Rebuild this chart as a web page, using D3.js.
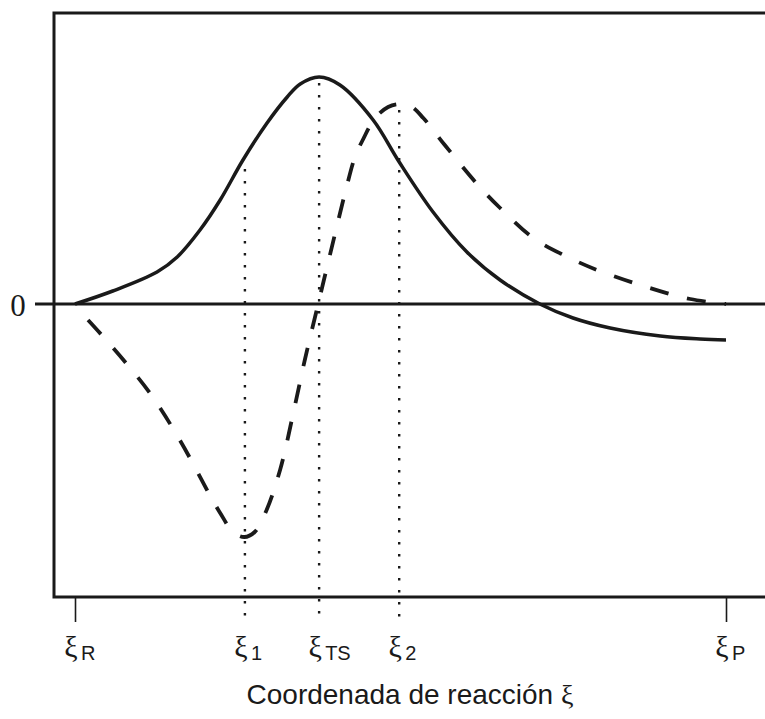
<!DOCTYPE html>
<html>
<head>
<meta charset="utf-8">
<script src="https://cdn.jsdelivr.net/npm/d3@7"></script>
<style>
  html, body { margin: 0; padding: 0; background: #fff; }
  svg { display: block; }
</style>
</head>
<body>
<svg id="chart" width="765" height="719"></svg>
<script>
// Reaction coordinate (0 = reactants, 1 = products)
const energyXi  = [0, 0.058, 0.126, 0.157, 0.192, 0.223, 0.258, 0.295, 0.326, 0.346, 0.375, 0.407, 0.458, 0.498, 0.550, 0.602, 0.653, 0.714, 0.765, 0.822, 0.899, 0.960, 1.0];
// Potential energy profile (solid line)
const energyVal = [0, 1.3, 3.2, 4.7, 7.4, 10.4, 14.4, 18.1, 20.7, 22.0, 22.7, 21.9, 18.4, 14.2, 9.2, 5.2, 2.4, 0, -1.4, -2.4, -3.2, -3.5, -3.6];

// Reaction force (dashed line)
const forceXi  = [0.020, 0.041, 0.077, 0.115, 0.161, 0.207, 0.223, 0.243, 0.260, 0.276, 0.293, 0.315, 0.338, 0.353, 0.375, 0.399, 0.416, 0.430, 0.442, 0.461, 0.481, 0.498, 0.515, 0.535, 0.568, 0.619, 0.653, 0.704, 0.760, 0.806, 0.883, 0.945, 1.0];
const forceVal = [-1.6, -3.1, -5.8, -8.9, -13.6, -19.1, -20.9, -22.8, -23.3, -22.8, -20.8, -16.6, -10.1, -5.6, 0.4, 6.9, 11.4, 14.7, 16.4, 18.6, 19.7, 20.0, 19.8, 18.6, 15.9, 11.9, 9.6, 6.6, 4.6, 3.3, 1.6, 0.5, 0];

// Marked points along the coordinate
const tickNames = ["R", "1", "TS", "2", "P"];
const tickXi    = [0, 0.261, 0.375, 0.498, 1.0];
// Which marks get a dotted guide, and the curve value each guide rises to
const guideNames = ["1", "TS", "2"];
const guideTop   = [14.1, 22.7, 20.0];

const svg = d3.select("#chart");
const ink = "#1a1a1a";
const serif = "'Liberation Serif', 'Times New Roman', serif";
const sans = "'Liberation Sans', Arial, Helvetica, sans-serif";

const x = d3.scaleLinear().domain([0, 1]).range([75, 726]);
const y = d3.scaleLinear().domain([-29.3, 29.1]).range([597, 13]);

const frameLeft = 54, frameRight = 765;

// Dotted guides
guideNames.forEach((n, i) => {
  const xi = tickXi[tickNames.indexOf(n)];
  svg.append("line")
    .attr("x1", x(xi)).attr("x2", x(xi))
    .attr("y1", y(guideTop[i]) + 6).attr("y2", 623)
    .attr("stroke", ink).attr("stroke-width", 2.4)
    .attr("stroke-dasharray", "2.4 9.6");
});

// Frame
svg.append("path")
  .attr("d", `M${frameRight},${y(29.1)} H${frameLeft} V${y(-29.3)} H${frameRight}`)
  .attr("fill", "none").attr("stroke", ink).attr("stroke-width", 3);

// Zero line, extending left as a tick
svg.append("line")
  .attr("x1", 35).attr("x2", frameRight)
  .attr("y1", y(0)).attr("y2", y(0))
  .attr("stroke", ink).attr("stroke-width", 3);

svg.append("text")
  .attr("x", 18).attr("y", y(0) + 12)
  .attr("text-anchor", "middle")
  .attr("font-family", serif)
  .attr("font-size", 31).attr("fill", ink)
  .text("0");

// Ticks for the end points
const axis = d3.axisBottom(x)
  .tickValues([tickXi[0], tickXi[4]])
  .tickSize(25)
  .tickFormat("");
const axisG = svg.append("g").attr("transform", `translate(0,${y(-29.3)})`).call(axis);
axisG.select(".domain").remove();
axisG.selectAll(".tick line").attr("stroke", ink).attr("stroke-width", 1.6);

// Labels ξ with subscripts
tickNames.forEach((n, i) => {
  const cx = x(tickXi[i]) - 4;
  svg.append("text")
    .attr("x", cx).attr("y", 657)
    .attr("text-anchor", "middle")
    .attr("font-family", serif)
    .attr("font-size", 30)
    .attr("fill", ink)
    .text("ξ");
  svg.append("text")
    .attr("x", cx + 10).attr("y", 660)
    .attr("font-family", sans)
    .attr("font-size", 20)
    .attr("fill", ink)
    .text(n);
});

// Curves
const line = d3.line()
  .x(d => x(d[0]))
  .y(d => y(d[1]))
  .curve(d3.curveCatmullRom.alpha(0.5));

svg.append("path")
  .datum(energyXi.map((v, i) => [v, energyVal[i]]))
  .attr("d", line)
  .attr("fill", "none").attr("stroke", ink)
  .attr("stroke-width", 3.5);

svg.append("path")
  .datum(forceXi.map((v, i) => [v, forceVal[i]]))
  .attr("d", line)
  .attr("fill", "none").attr("stroke", ink)
  .attr("stroke-width", 3.8)
  .attr("stroke-dasharray", "19 19");

// Axis title
const title = svg.append("text")
  .attr("x", 410).attr("y", 704)
  .attr("text-anchor", "middle")
  .attr("fill", ink);
title.append("tspan")
  .attr("font-family", sans)
  .attr("font-size", 28)
  .text("Coordenada de reacción ");
title.append("tspan")
  .attr("font-family", serif)
  .attr("font-size", 28)
  .text("ξ");
</script>
</body>
</html>
